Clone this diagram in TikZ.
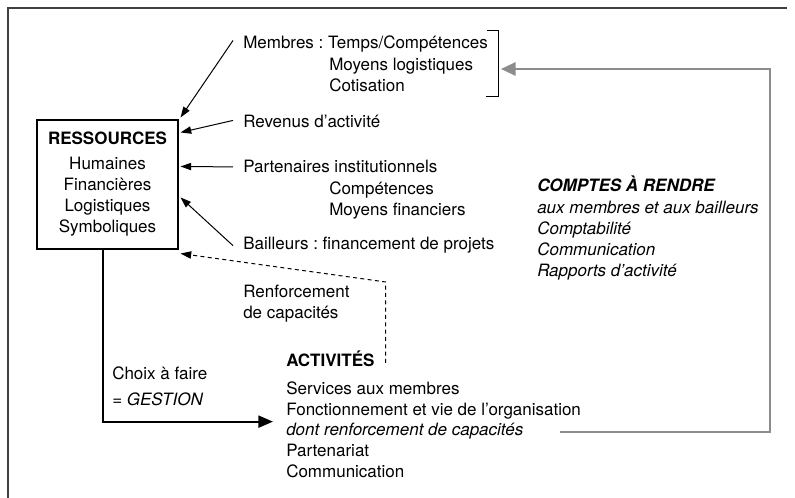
\documentclass[tikz,border=0pt]{standalone}
\usepackage{fontspec}
\setmainfont{TeX Gyre Heros}
\usetikzlibrary{arrows.meta,calc}
\frenchspacing
\tikzset{
    lbl/.style={anchor=base west, inner sep=0pt},
    lblml/.style={anchor=north west, inner sep=0pt, align=left},
    resbox/.style={rectangle, draw, line width=0.8pt, minimum width=105.75pt, minimum height=96.75pt, align=center, inner sep=0pt},
    line/.style={draw, -{Triangle[length=8pt,width=5.5pt]}, line width=0.75pt},
    dashline/.style={draw, -{Triangle[length=8pt,width=5.5pt]}, line width=0.75pt, dash pattern=on 3pt off 2.5pt},
    mainline/.style={draw, -{Triangle[length=11pt,width=9pt]}, line width=1.6pt},
    backline/.style={draw=black!45, -{Triangle[length=11pt,width=10pt]}, line width=1.5pt}
}

\begin{document}
\begin{tikzpicture}[x=0.75pt, y=-0.75pt, font=\fontsize{12.75}{15.75}\selectfont]
    \useasboundingbox (0,0) rectangle (795,498);
    \draw[line width=1pt, black!75] (8,498) -- (8,8) -- (787,8);

    % ressources
    \node[resbox] (res) at (107.5,184.5) {\textbf{RESSOURCES}\\[3pt]Humaines\\Financières\\Logistiques\\Symboliques};

    % apports
    \node[lbl] (mem) at (243,49) {Membres : Temps/Compétences};
    \node[lblml] (memsub) at (329,57.7) {Moyens logistiques\\Cotisation};
    \node[lbl] (rev) at (243,128) {Revenus d'activité};
    \node[lbl] (part) at (243,173) {Partenaires institutionnels};
    \node[lblml] (partsub) at (329,181.7) {Compétences\\Moyens financiers};
    \node[lbl] (bai) at (243,250) {Bailleurs : financement de projets};
    \node[lblml] (ren) at (243,284.7) {Renforcement\\de capacités};

    % gestion
    \node[lblml] (choix) at (112,366.7) {Choix à faire\\[3.75pt]\textit{= GESTION}};

    % activites
    \node[lbl] (act) at (286,367) {\textbf{ACTIVITÉS}};
    \node[lblml] (act1) at (286,381.7) {Services aux membres\\Fonctionnement et vie de l'organisation};
    \node[lbl] (dont) at (286,435) {\textit{dont renforcement de capacités}};
    \node[lblml] (act2) at (286,443.7) {Partenariat\\Communication};

    % comptes
    \node[lbl] (comptes) at (537,192) {\textbf{\textit{COMPTES À RENDRE}}};
    \node[lblml, font=\fontsize{12.75}{15.75}\selectfont\itshape] (comptesub) at (537,200.7) {aux membres et aux bailleurs\\Comptabilité\\Communication\\Rapports d'activité};

    % crochet membres
    \draw[line width=0.75pt] (487,31) -- (498,31) -- (498,97) -- (486,97);
    \coordinate (brk) at (501,69);
    \coordinate (cr) at (770,69);

    \coordinate (dk) at ($(act.base east)+(11,-85)$);
    \coordinate (ga) at ($(act1.south west)+(-13,2)$);

    \draw[line] ($(mem.west)+(-10,-4)$) -- ($(res.north east)+(2,-2)$);
    \draw[line] ($(rev.west)+(-10,-1.5)$) -- ($(res.north east)+(2,13)$);
    \draw[line] ($(part.west)+(-10,0)$) -- ($(res.north east)+(2,47)$);
    \draw[line] ($(bai.west)+(-10,0)$) -- ($(res.north east)+(2,78)$);
    \draw[dashline] ($(act.base east)+(11,-4)$) -- (dk) -- ($(res.south east)+(2,4)$);
    \draw[mainline] ($(res.south)+(-4.5,0)$) |- (ga);
    \draw[backline] ($(dont.east)+(36,1.5)$) -| (cr) -- (brk);
\end{tikzpicture}
\end{document}
